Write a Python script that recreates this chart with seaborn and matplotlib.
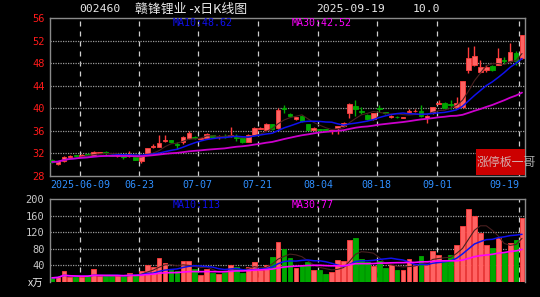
import numpy as np
import pandas as pd
import matplotlib
matplotlib.use("Agg")
import matplotlib.pyplot as plt
import seaborn as sns
from matplotlib.patches import Rectangle

# ---------------- data ----------------
opens = [30.9, 30.2, 30.6, 31.4, 31.7, 31.6, 31.9, 31.6, 32.1, 32.2,
         31.8, 31.5, 31.5, 31.5, 31.3, 30.6, 32.1, 33.1, 33.2, 34.2,
         34.3, 33.7, 34.1, 34.7, 35.0, 34.6, 34.7, 35.2, 34.9, 35.1,
         35.1, 34.9, 34.8, 34.1, 35.3, 36.4, 36.2, 37.2, 36.5, 40.0,
         39.0, 38.1, 38.7, 37.2, 36.2, 36.3, 36.3, 36.0, 36.5, 36.8,
         39.2, 40.4, 39.6, 38.8, 38.1, 40.1, 39.3, 38.5, 38.5, 38.3,
         39.3, 39.5, 39.6, 38.3, 39.1, 40.8, 41.0, 40.7, 40.2, 40.2,
         46.7, 47.7, 46.5, 46.8, 47.5, 47.7, 48.6, 48.3, 49.8, 49.0]
highs = [31.0, 30.7, 31.6, 31.8, 31.8, 31.9, 32.1, 32.5, 32.3, 32.5,
         31.9, 31.7, 31.6, 32.4, 31.4, 31.6, 33.0, 33.6, 35.3, 35.3,
         34.4, 34.1, 35.1, 36.0, 35.1, 34.8, 35.7, 35.3, 35.2, 35.5,
         36.6, 35.4, 34.9, 35.4, 36.6, 36.7, 37.4, 37.3, 40.0, 40.5,
         39.2, 38.5, 38.8, 37.3, 36.6, 36.3, 36.3, 36.2, 36.9, 37.5,
         40.9, 41.4, 40.2, 38.9, 39.2, 40.5, 39.4, 38.8, 38.6, 38.5,
         39.8, 39.8, 40.5, 38.8, 40.3, 41.4, 41.1, 41.5, 42.0, 44.9,
         50.8, 51.0, 48.6, 47.6, 47.6, 50.6, 49.1, 51.6, 50.2, 52.9]
lows = [30.3, 30.0, 30.5, 31.3, 31.4, 31.5, 31.5, 31.5, 32.0, 31.6,
        31.5, 31.4, 31.0, 31.4, 30.8, 30.3, 31.9, 33.0, 33.1, 34.1,
        33.9, 32.8, 33.6, 34.6, 34.6, 34.5, 34.6, 34.9, 34.5, 34.8,
        35.0, 34.2, 33.9, 34.0, 35.2, 36.3, 36.1, 36.2, 36.4, 39.2,
        38.4, 38.0, 37.6, 36.1, 36.1, 36.0, 36.1, 35.4, 35.4, 36.6,
        38.2, 38.7, 39.0, 38.0, 38.0, 39.4, 39.0, 38.3, 38.2, 38.2,
        39.2, 39.3, 38.5, 37.4, 39.0, 40.7, 39.9, 39.8, 40.1, 40.1,
        46.2, 47.5, 46.3, 46.5, 46.6, 47.6, 47.8, 48.2, 47.7, 48.8]
closes = [30.5, 30.6, 31.4, 31.6, 31.5, 31.8, 31.7, 32.3, 32.2, 32.0,
          31.6, 31.6, 31.3, 31.6, 30.9, 31.5, 32.9, 33.4, 33.8, 34.4,
          34.0, 33.5, 35.0, 35.7, 34.7, 34.7, 35.5, 35.0, 35.0, 35.0,
          35.2, 34.7, 34.0, 35.3, 36.5, 36.5, 37.2, 36.4, 39.7, 39.8,
          38.6, 38.4, 37.7, 36.2, 36.5, 36.2, 36.2, 36.1, 36.8, 37.4,
          40.8, 39.8, 39.4, 38.1, 39.1, 39.9, 39.1, 38.6, 38.4, 38.4,
          39.5, 39.6, 38.6, 38.6, 40.2, 40.9, 40.0, 40.6, 40.9, 44.8,
          48.9, 49.2, 47.4, 47.4, 46.7, 48.9, 48.4, 50.0, 48.3, 52.9]
volumes = [10, 12, 26, 12, 12, 12, 14, 31, 14, 14,
           14, 14, 14, 22, 16, 26, 42, 37, 57, 45,
           29, 26, 50, 50, 31, 17, 31, 22, 19, 26,
           42, 37, 22, 37, 47, 29, 42, 61, 97, 79,
           57, 33, 39, 47, 28, 28, 19, 24, 53, 50,
           102, 105, 55, 47, 39, 50, 33, 40, 28, 30,
           55, 40, 62, 41, 74, 66, 50, 65, 89, 135,
           175, 159, 119, 89, 81, 107, 69, 95, 101, 154]

date_tick_pos = [4.7, 14.6, 24.5, 34.6, 44.7, 54.6, 64.7, 78.5]
date_tick_labels = ["2025-06-09", "06-23", "07-07", "07-21",
                    "08-04", "08-18", "09-01", "09-19"]
price_ticks = [56, 52, 48, 44, 40, 36, 32, 28]
vol_ticks = [200, 160, 120, 80, 40]

title_code = "002460"
title_name = "赣锋锂业 -x日K线图"
title_date = "2025-09-19"
title_pct = "10.0"
ma_price_labels = ["MA10:48.62", "MA30:42.52"]
ma_vol_labels = ["MA10:113", "MA30:77"]
watermark = "涨停板一哥"

# ---------------- styling ----------------
sns.set_theme(style="dark", rc={
    "axes.facecolor": "black", "figure.facecolor": "black",
    "axes.edgecolor": "#8a8a8a", "axes.linewidth": 1.0,
})
plt.rcParams['font.family'] = ['DejaVu Sans Mono', 'Noto Sans CJK SC']
CJK = ['Noto Sans CJK SC', 'DejaVu Sans']

W, H = 540, 297
fig = plt.figure(figsize=(W / 100, H / 100), dpi=100)


def fx(x):
    return x / W


def fy(y):
    return 1 - y / H


ax = fig.add_axes([fx(50), fy(176), (525 - 50) / W, (176 - 18) / H])
axv = fig.add_axes([fx(50), fy(282), (525 - 50) / W, (282 - 199) / H])

df = pd.DataFrame({"i": np.arange(len(closes)), "open": opens, "high": highs,
                   "low": lows, "close": closes, "vol": volumes})
df["up"] = df["close"] >= df["open"]
for n in (5, 10, 30):
    df[f"ma{n}"] = df["close"].rolling(n, min_periods=1).mean()
    df[f"vma{n}"] = df["vol"].rolling(n, min_periods=1).mean()

RED_FILL = "#ff6262"
RED_EDGE = "#ff3c3c"
GREEN = "#00a800"
XLIM = (-0.34, 79.5)

for a in (ax, axv):
    a.set_facecolor("black")
    a.set_xlim(*XLIM)
    for s in a.spines.values():
        s.set_color("#8a8a8a")
        s.set_linewidth(1.0)
    for p in date_tick_pos:
        a.axvline(p, color="#cfcfcf", lw=0.9, ls=(0, (4, 4)), zorder=1)
    a.grid(False)
axv.spines["bottom"].set_visible(False)

# horizontal dotted grid
for t in price_ticks[1:-1]:
    ax.axhline(t, color="#9a9a9a", lw=0.9, ls=(0, (1, 1)), zorder=1)
for t in vol_ticks[1:]:
    axv.axhline(t, color="#9a9a9a", lw=0.9, ls=(0, (1, 1)), zorder=1)

# ---------------- candles ----------------
ax.set_ylim(28, 56)
up = df[df["up"]]
dn = df[~df["up"]]
ax.vlines(up["i"], up["low"], up["high"], color=RED_EDGE, lw=1.0, zorder=2)
ax.vlines(dn["i"], dn["low"], dn["high"], color=GREEN, lw=1.0, zorder=2)
ax.bar(up["i"], np.maximum(up["close"] - up["open"], 0.08), bottom=up["open"],
       width=0.78, color=RED_FILL, edgecolor=RED_EDGE, linewidth=0.6, zorder=3)
ax.bar(dn["i"], np.maximum(dn["open"] - dn["close"], 0.08), bottom=dn["close"],
       width=0.78, color=GREEN, edgecolor=GREEN, linewidth=0.6, zorder=3)

sns.lineplot(data=df, x="i", y="ma5", ax=ax, color="#4a2020", lw=0.8, legend=False, zorder=4)
sns.lineplot(data=df, x="i", y="ma10", ax=ax, color="#1010ee", lw=1.1, legend=False, zorder=5)
sns.lineplot(data=df, x="i", y="ma30", ax=ax, color="#cc00cc", lw=1.3, legend=False, zorder=5)

# ---------------- volume ----------------
axv.set_ylim(0, 200)
axv.bar(up["i"], up["vol"], width=0.8, color=RED_FILL, edgecolor=RED_EDGE, linewidth=0.6, zorder=2)
axv.bar(dn["i"], dn["vol"], width=0.8, color=GREEN, edgecolor=GREEN, linewidth=0.6, zorder=2)
sns.lineplot(data=df, x="i", y="vma5", ax=axv, color="#4a2020", lw=0.8, legend=False, zorder=4)
sns.lineplot(data=df, x="i", y="vma10", ax=axv, color="#1010ee", lw=1.1, legend=False, zorder=5)
sns.lineplot(data=df, x="i", y="vma30", ax=axv, color="#ff00ff", lw=1.2, legend=False, zorder=5)

# ---------------- ticks ----------------
ax.set_yticks(price_ticks)
ax.set_yticklabels([str(t) for t in price_ticks])
ax.tick_params(axis="y", length=0, pad=4, labelsize=7.5, labelcolor="#ff1a1a")
ax.set_xticks(date_tick_pos)
ax.set_xticklabels(date_tick_labels)
ax.tick_params(axis="x", length=0, pad=3, labelsize=7.2, labelcolor="#2f8fff")
ax.get_xticklabels()[-1].set_ha("right")

axv.set_yticks(vol_ticks)
axv.set_yticklabels([str(t) for t in vol_ticks])
axv.tick_params(axis="y", length=0, pad=4, labelsize=7.5, labelcolor="#c8c8c8")
axv.set_xticks([])
for a in (ax, axv):
    a.set_xlabel("")
    a.set_ylabel("")

# ---------------- texts ----------------
fig.text(fx(79), fy(9), title_code, color="#e8e8e8", fontsize=8.2, va="center", ha="left")
fig.text(fx(135), fy(9), title_name, color="#e8e8e8", fontsize=9.3, va="center", ha="left", family=CJK)
fig.text(fx(316), fy(9), title_date, color="#e8e8e8", fontsize=8.2, va="center", ha="left")
fig.text(fx(413), fy(9), title_pct, color="#e8e8e8", fontsize=8.2, va="center", ha="left")

fig.text(fx(173), fy(23.5), ma_price_labels[0], color="#1010ee", fontsize=7.2, va="center", ha="left")
fig.text(fx(292), fy(23.5), ma_price_labels[1], color="#ff00ff", fontsize=7.2, va="center", ha="left")
fig.text(fx(173), fy(204.5), ma_vol_labels[0], color="#1010ee", fontsize=7.2, va="center", ha="left")
fig.text(fx(292), fy(204.5), ma_vol_labels[1], color="#ff00ff", fontsize=7.2, va="center", ha="left")
fig.text(fx(28), fy(284), "x万", color="#e8e8e8", fontsize=7.5, va="center", ha="left", family=CJK)

# watermark box
fig.patches.append(Rectangle((fx(476), fy(175)), 49 / W, 26 / H, transform=fig.transFigure,
                             facecolor="#cc0000", edgecolor="none", zorder=10))
fig.text(fx(477), fy(162), watermark, color="#d8d8d8", alpha=0.8, fontsize=8.6,
         va="center", ha="left", family=CJK, zorder=11)

fig.savefig("out.png", dpi=100, facecolor="black")
